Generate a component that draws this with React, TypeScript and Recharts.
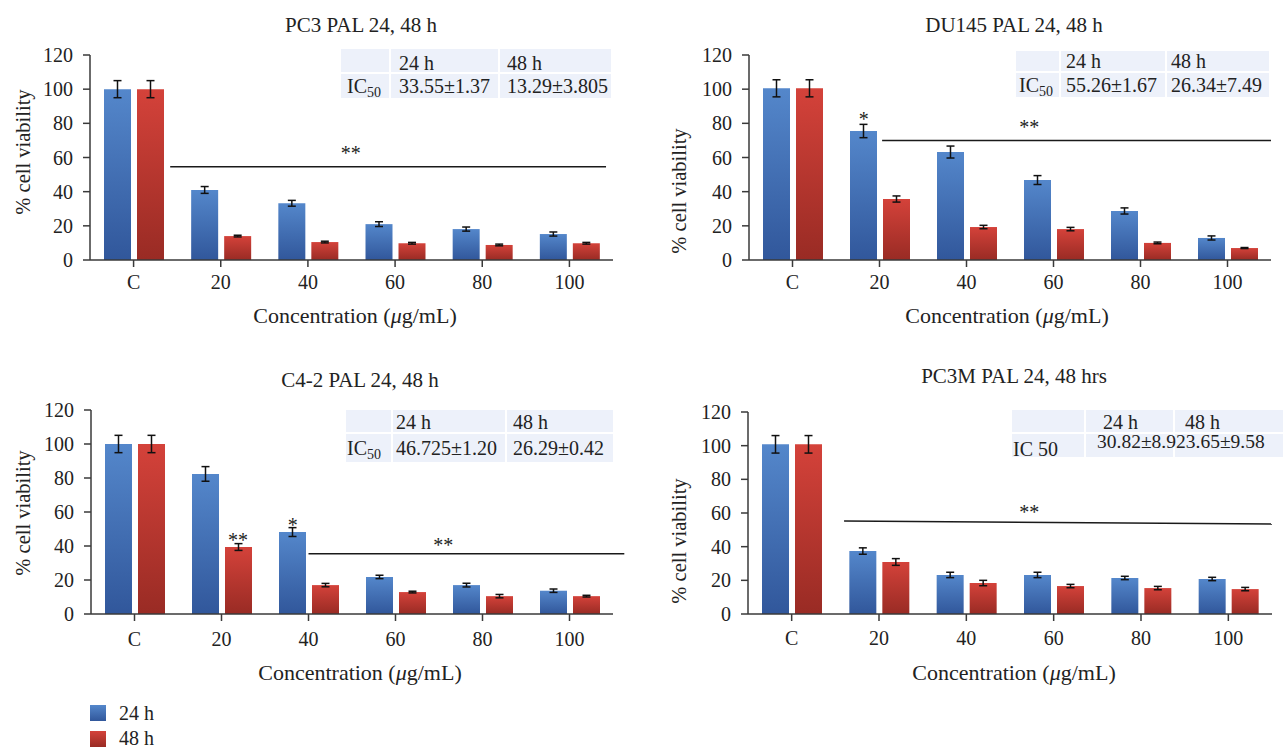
import React from 'react';
import { BarChart, Bar, XAxis, YAxis, ErrorBar } from 'recharts';

// ---------------------------------------------------------------------------
// Data
// ---------------------------------------------------------------------------

const categories = ['C', '20', '40', '60', '80', '100'];
const seriesNames = ['24 h', '48 h'];
const yTicks = [0, 20, 40, 60, 80, 100, 120];

// PC3
const pc3H24 = [100, 41, 33.2, 21, 18.1, 15.2];
const pc3H48 = [100, 14, 10.5, 9.8, 8.8, 9.8];
const pc3Err24 = [5, 2, 1.7, 1.4, 1.2, 1.2];
const pc3Err48 = [5, 0.5, 0.5, 0.5, 0.5, 0.5];

// DU145
const du145H24 = [100.5, 75.5, 63.2, 46.8, 28.7, 12.9];
const du145H48 = [100.5, 35.7, 19.3, 18.1, 10, 7];
const du145Err24 = [5, 3.9, 3.5, 2.6, 1.8, 1.2];
const du145Err48 = [5, 1.8, 1, 1, 0.5, 0.3];

// C4-2
const c42H24 = [100, 82.4, 48.2, 21.8, 17, 13.7];
const c42H48 = [100, 39.4, 17, 12.9, 10.5, 10.5];
const c42Err24 = [5.1, 4.3, 2.6, 1, 1.1, 1];
const c42Err48 = [5.1, 2, 1, 0.5, 1, 0.5];

// PC3M
const pc3mH24 = [100.8, 37.4, 23.2, 23.2, 21.4, 20.8];
const pc3mH48 = [100.8, 30.9, 18.4, 16.6, 15.4, 14.8];
const pc3mErr24 = [5.2, 1.9, 1.6, 1.6, 1, 1];
const pc3mErr48 = [5.2, 2, 1.6, 1, 1, 1];

// IC50 tables: [header row, value row]
const pc3Table = [['', '24 h', '48 h'], ['IC|50', '33.55±1.37', '13.29±3.805']];
const du145Table = [['', '24 h', '48 h'], ['IC|50', '55.26±1.67', '26.34±7.49']];
const c42Table = [['', '24 h', '48 h'], ['IC|50', '46.725±1.20', '26.29±0.42']];
const pc3mTable = [['', '24 h', '48 h'], ['IC 50', '30.82±8.9', '23.65±9.58']];

// significance annotations: [fromCategory, value, toCategory, value] (category units)
const pc3Sig = [[0.92, 54.6, 5.92, 54.6]];
const du145Sig = [[1.53, 70, 6.0, 70]];
const c42Sig = [[2.5, 35.5, 6.13, 35.5]];
const pc3mSig = [[1.1, 55.3, 6.0, 53.5]];

const pc3Stars = [{ label: '**', at: 2.99, value: 64 }];
const du145Stars = [
  { label: '**', at: 3.22, value: 79 },
  { label: '*', at: 1.32, value: 83.7 },
];
const c42Stars = [
  { label: '**', at: 4.05, value: 42 },
  { label: '**', at: 1.69, value: 44.7 },
  { label: '*', at: 2.32, value: 53.5 },
];
const pc3mStars = [{ label: '**', at: 3.22, value: 61.8 }];

// ---------------------------------------------------------------------------
// Styling
// ---------------------------------------------------------------------------

const FONT = "'Liberation Serif', 'Times New Roman', serif";
const INK = '#222';
const AXIS = '#3a3a3a';
const BLUE_TOP = '#5487cb';
const BLUE_BOTTOM = '#31579b';
const RED_TOP = '#d4423a';
const RED_BOTTOM = '#992b24';
const TABLE_BG = '#edf1fa';
const TICK_FONT = 20;

const panels = [
  {
    id: 'pc3',
    title: 'PC3 PAL 24, 48 h',
    v24: pc3H24, v48: pc3H48, e24: pc3Err24, e48: pc3Err48,
    sig: pc3Sig, stars: pc3Stars, table: pc3Table,
    box: { x: 0, y: 0, w: 640, h: 330 },
    plot: { left: 90, right: 613, top: 55, bottom: 260 },
    tickMargin: 8,
    titleAt: [361, 25], xTitleAt: [355, 315], yTitleAt: [22.5, 152],
    tbl: { xs: [340, 390, 499, 612], ys: [48, 73, 99], base: [70, 93], pads: [7, 9, 8], size: 20 },
  },
  {
    id: 'du145',
    title: 'DU145 PAL 24, 48 h',
    v24: du145H24, v48: du145H48, e24: du145Err24, e48: du145Err48,
    sig: du145Sig, stars: du145Stars, table: du145Table,
    box: { x: 640, y: 0, w: 644, h: 330 },
    plot: { left: 749, right: 1271, top: 55, bottom: 260 },
    tickMargin: 8,
    titleAt: [1014, 25], xTitleAt: [1007, 315], yTitleAt: [679, 191],
    tbl: { xs: [1015, 1060, 1166, 1270], ys: [50, 72, 98], base: [68, 92], pads: [4, 6, 5], size: 20 },
  },
  {
    id: 'c42',
    title: 'C4-2 PAL 24, 48 h',
    v24: c42H24, v48: c42H48, e24: c42Err24, e48: c42Err48,
    sig: c42Sig, stars: c42Stars, table: c42Table,
    box: { x: 0, y: 360, w: 640, h: 330 },
    plot: { left: 91, right: 613, top: 410, bottom: 614 },
    tickMargin: 11,
    titleAt: [360, 380], xTitleAt: [360, 672], yTitleAt: [22.5, 513],
    tbl: { xs: [345, 392, 506, 614], ys: [409, 433, 463], base: [429, 455], pads: [2, 4, 7], size: 20 },
  },
  {
    id: 'pc3m',
    title: 'PC3M PAL 24, 48 hrs',
    v24: pc3mH24, v48: pc3mH48, e24: pc3mErr24, e48: pc3mErr48,
    sig: pc3mSig, stars: pc3mStars, table: pc3mTable,
    box: { x: 640, y: 360, w: 644, h: 330 },
    plot: { left: 748, right: 1272, top: 412, bottom: 614 },
    tickMargin: 10,
    titleAt: [1014, 376], xTitleAt: [1014, 672], yTitleAt: [679, 541],
    tbl: { xs: [1011, 1085, 1174, 1284], ys: [409, 433, 458], base: [429, 456], pads: [2, 18, 11], size: 20, split: true },
  },
];

// ---------------------------------------------------------------------------
// Panel
// ---------------------------------------------------------------------------

function IcTable({ p }: { p: any }) {
  const { xs, ys, base, pads, size, split } = p.tbl;
  const ox = p.box.x;
  const oy = p.box.y;
  const cells = [];
  for (let r = 0; r < 2; r++) {
    for (let c = 0; c < 3; c++) {
      cells.push(
        <rect
          key={`bg-${r}-${c}`}
          x={xs[c] - ox + 1}
          y={ys[r] - oy + 1}
          width={xs[c + 1] - xs[c] - 2}
          height={ys[r + 1] - ys[r] - 2}
          fill={TABLE_BG}
        />
      );
    }
  }
  const texts = [];
  p.table.forEach((row: string[], r: number) => {
    row.forEach((txt: string, c: number) => {
      if (!txt) return;
      let y = base[r] - oy;
      let x = xs[c] - ox + pads[c];
      let anchor = 'start';
      let fs = size;
      if (split && r === 1 && c > 0) {
        y = base[r] - oy - 8;
        x = xs[2] - ox + 2;
        anchor = c === 1 ? 'end' : 'start';
        fs = size - 0.5;
      }
      if (txt.includes('|')) {
        const [main, sub] = txt.split('|');
        texts.push(
          <text key={`t-${r}-${c}`} x={x} y={y} fontSize={fs} fill={INK}>
            {main}
            <tspan fontSize={14} dy={4}>{sub}</tspan>
          </text>
        );
      } else {
        texts.push(
          <text key={`t-${r}-${c}`} x={x} y={y} fontSize={fs} fill={INK} textAnchor={anchor}>
            {txt}
          </text>
        );
      }
    });
  });
  return (
    <g>
      {cells}
      {texts}
    </g>
  );
}

function Panel({ p }: { p: any }) {
  const { box, plot } = p;
  const data = categories.map((c, i) => ({
    conc: c,
    h24: p.v24[i],
    h48: p.v48[i],
    e24: p.e24[i],
    e48: p.e48[i],
  }));
  const xAxisH = 30;
  const yAxisW = plot.left - box.x;
  const marginTop = plot.top - box.y;
  const marginRight = box.x + box.w - plot.right;
  const marginBottom = box.y + box.h - plot.bottom - xAxisH;

  const catW = (plot.right - plot.left) / categories.length;
  const px = (c: number) => plot.left - box.x + c * catW;
  const py = (v: number) => plot.bottom - box.y - (v * (plot.bottom - plot.top)) / 120;

  const [tx, ty] = p.titleAt;
  const [xx, xy] = p.xTitleAt;
  const [yx, yy] = p.yTitleAt;

  return (
    <div style={{ position: 'absolute', left: box.x, top: box.y, width: box.w, height: box.h, fontFamily: FONT }}>
      <BarChart
        width={box.w}
        height={box.h}
        data={data}
        margin={{ top: marginTop, right: marginRight, left: 0, bottom: marginBottom }}
        barSize={27}
        barGap={6}
      >
        <defs>
          <linearGradient id={`${p.id}-blue`} x1="0" y1="0" x2="0" y2="1">
            <stop offset="0%" stopColor={BLUE_TOP} />
            <stop offset="100%" stopColor={BLUE_BOTTOM} />
          </linearGradient>
          <linearGradient id={`${p.id}-red`} x1="0" y1="0" x2="0" y2="1">
            <stop offset="0%" stopColor={RED_TOP} />
            <stop offset="100%" stopColor={RED_BOTTOM} />
          </linearGradient>
        </defs>
        <XAxis
          dataKey="conc"
          height={xAxisH}
          interval={0}
          tickSize={7}
          tickMargin={p.tickMargin}
          axisLine={{ stroke: AXIS, strokeWidth: 1.5 }}
          tickLine={{ stroke: AXIS, strokeWidth: 1.5 }}
          tick={{ fill: INK, fontSize: TICK_FONT, fontFamily: FONT }}
        />
        <YAxis
          width={yAxisW}
          domain={[0, 120]}
          ticks={yTicks}
          interval={0}
          tickSize={7}
          tickMargin={10}
          axisLine={{ stroke: AXIS, strokeWidth: 1.5 }}
          tickLine={{ stroke: AXIS, strokeWidth: 1.5 }}
          tick={{ fill: INK, fontSize: TICK_FONT, fontFamily: FONT }}
        />
        <Bar dataKey="h24" name={seriesNames[0]} fill={`url(#${p.id}-blue)`} isAnimationActive={false}>
          <ErrorBar dataKey="e24" width={4} stroke="#111" strokeWidth={1.5} isAnimationActive={false} />
        </Bar>
        <Bar dataKey="h48" name={seriesNames[1]} fill={`url(#${p.id}-red)`} isAnimationActive={false}>
          <ErrorBar dataKey="e48" width={4} stroke="#111" strokeWidth={1.5} isAnimationActive={false} />
        </Bar>
      </BarChart>

      <svg
        width={box.w}
        height={box.h}
        style={{ position: 'absolute', left: 0, top: 0, pointerEvents: 'none', overflow: 'visible' }}
        fontFamily={FONT}
      >
        <text x={tx - box.x} y={ty - box.y} dy="0.35em" textAnchor="middle" fontSize={21} fill={INK}>
          {p.title}
        </text>
        <text x={xx - box.x} y={xy - box.y} dy="0.35em" textAnchor="middle" fontSize={22} fill={INK}>
          Concentration (<tspan fontStyle="italic">μ</tspan>g/mL)
        </text>
        <text
          x={yx - box.x}
          y={yy - box.y}
          dy="0.35em"
          textAnchor="middle"
          fontSize={20.5}
          fill={INK}
          transform={`rotate(-90 ${yx - box.x} ${yy - box.y})`}
        >
          % cell viability
        </text>
        {p.sig.map((s: number[], i: number) => (
          <line key={i} x1={px(s[0])} y1={py(s[1])} x2={px(s[2])} y2={py(s[3])} stroke="#1a1a1a" strokeWidth={1.5} />
        ))}
        {p.stars.map((s: any, i: number) => (
          <text key={i} x={px(s.at)} y={py(s.value) + 9} textAnchor="middle" fontSize={20} fill={INK}>
            {s.label}
          </text>
        ))}
        <IcTable p={p} />
      </svg>
    </div>
  );
}

function Legend() {
  const colors = [
    [BLUE_TOP, BLUE_BOTTOM],
    [RED_TOP, RED_BOTTOM],
  ];
  return (
    <svg width={300} height={57} style={{ position: 'absolute', left: 0, top: 690 }} fontFamily={FONT}>
      <defs>
        {colors.map((c, i) => (
          <linearGradient key={i} id={`leg-${i}`} x1="0" y1="0" x2="0" y2="1">
            <stop offset="0%" stopColor={c[0]} />
            <stop offset="100%" stopColor={c[1]} />
          </linearGradient>
        ))}
      </defs>
      {seriesNames.map((name, i) => (
        <g key={name}>
          <rect x={90} y={15 + i * 26} width={16} height={16} fill={`url(#leg-${i})`} />
          <text x={119} y={29.5 + i * 25} fontSize={20} fill={INK}>
            {name}
          </text>
        </g>
      ))}
    </svg>
  );
}

export default function App() {
  return (
    <div style={{ position: 'absolute', left: 0, top: 0, width: 1284, height: 747, background: '#fff', overflow: 'hidden' }}>
      {panels.map((p) => (
        <Panel key={p.id} p={p} />
      ))}
      <Legend />
    </div>
  );
}
